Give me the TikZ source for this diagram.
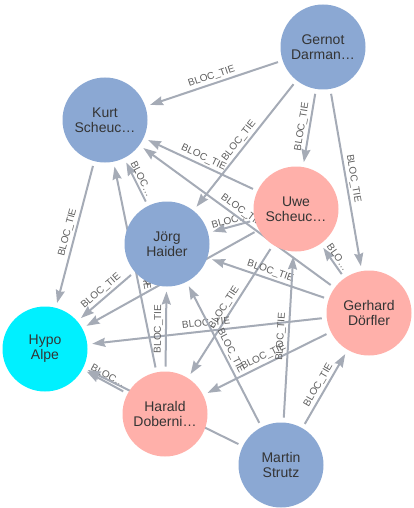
\documentclass[tikz,border=0pt]{standalone}
\usepackage{fontspec}
\setmainfont{Liberation Sans}
\usepackage{tikz}
\usetikzlibrary{arrows.meta,backgrounds}
\definecolor{nodeblue}{RGB}{139,168,211}
\definecolor{nodepink}{RGB}{255,176,170}
\definecolor{nodecyan}{RGB}{0,240,255}
\definecolor{tiegray}{RGB}{165,171,182}
\definecolor{namegray}{RGB}{52,52,52}
\definecolor{captiongray}{RGB}{95,95,95}
\tikzstyle{vertex}=[circle,minimum size=85pt,inner sep=0pt,outer sep=5pt,align=center,text=namegray,font=\fontsize{14}{15}\selectfont]
\tikzstyle{bluevertex}=[vertex,fill=nodeblue]
\tikzstyle{pinkvertex}=[vertex,fill=nodepink]
\tikzstyle{bankvertex}=[vertex,fill=nodecyan]
\tikzstyle{tie}=[->,line width=2pt,draw=tiegray]
\tikzstyle{tielabel}=[midway,sloped,above,inner sep=2pt,text=captiongray,font=\fontsize{10}{10}\selectfont]
\tikzset{>={Stealth[length=13pt,width=9pt,inset=1.5pt]}}

\begin{document}
\begin{tikzpicture}[x=1pt,y=-1pt]
\useasboundingbox (0,0) rectangle (414,508);
\draw (323, 47) node [bluevertex] (gernot) {Gernot\\Darman…};
\draw (105, 120) node [bluevertex] (kurt) {Kurt\\Scheuc…};
\draw (296, 209) node [pinkvertex] (uwe) {Uwe\\Scheuc…};
\draw (167, 244) node [bluevertex] (joerg) {Jörg\\Haider};
\draw (369, 313) node [pinkvertex] (gerhard) {Gerhard\\Dörfler};
\draw (45, 349) node [bankvertex] (hypo) {Hypo\\Alpe};
\draw (165, 414) node [pinkvertex] (harald) {Harald\\Doberni…};
\draw (281, 465) node [bluevertex] (martin) {Martin\\Strutz};
% ties, kept under the circles
\begin{pgfonlayer}{background}
\draw[tie] (gernot) -- (kurt) node[tielabel] {BLOC\_TIE};
\draw[tie] (gernot) -- (joerg) node[tielabel] {BLOC\_TIE};
\draw[tie] (gernot) -- (uwe) node[tielabel] {BLOC\_TIE};
\draw[tie] (gernot) -- (gerhard) node[tielabel] {BLOC\_TIE};
\draw[tie] (uwe) -- (kurt) node[tielabel] {BLOC\_TIE};
\draw[tie] (uwe) -- (joerg) node[tielabel] {BLOC…};
\draw[tie] (uwe) -- (hypo) node[tielabel] {BLOC\_TIE};
\draw[tie] (uwe) -- (harald) node[tielabel] {BLOC\_TIE};
\draw[tie] (gerhard) -- (kurt) node[tielabel] {BLOC\_TIE};
\draw[tie] (gerhard) -- (joerg) node[tielabel] {BLOC\_TIE};
\draw[tie] (gerhard) -- (hypo) node[tielabel] {BLOC\_TIE};
\draw[tie] (gerhard) -- (harald) node[tielabel] {BLOC\_TIE};
\draw[tie] (gerhard) -- (uwe) node[tielabel] {BLO…};
\draw[tie] (joerg) -- (kurt) node[tielabel] {BLOC…};
\draw[tie] (joerg) -- (hypo) node[tielabel] {BLOC\_TIE};
\draw[tie] (kurt) -- (hypo) node[tielabel] {BLOC\_TIE};
\draw[tie] (harald) -- (kurt) node[tielabel] {BLOC\_TIE};
\draw[tie] (harald) -- (joerg) node[tielabel] {BLOC\_TIE};
\draw[tie] (harald) -- (hypo) node[tielabel] {BLOC…};
\draw[tie] (martin) -- (hypo) node[tielabel] {BLOC\_TIE};
\draw[tie] (martin) -- (joerg) node[tielabel] {BLOC\_TIE};
\draw[tie] (martin) -- (uwe) node[tielabel] {BLOC\_TIE};
\draw[tie] (martin) -- (gerhard) node[tielabel] {BLOC\_TIE};
\end{pgfonlayer}
\end{tikzpicture}
\end{document}
